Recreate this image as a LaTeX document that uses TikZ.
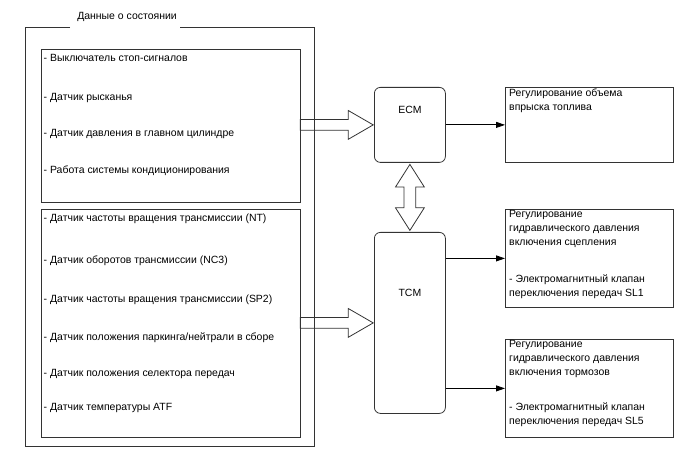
\documentclass[tikz,border=0pt]{standalone}
\usepackage{fontspec}
\setmainfont{Liberation Sans}
\usetikzlibrary{positioning, arrows.meta, shapes.arrows, calc}
\definecolor{mLine}{HTML}{333333}

\begin{document}
\begin{tikzpicture}[x=1bp, y=-1bp,
  every node/.style={font=\fontsize{10.5}{14}\selectfont},
  panel/.style={draw=mLine, line width=0.8bp, anchor=north west, inner sep=0},
  ctrl/.style={draw=mLine, line width=0.8bp, rounded corners=6bp,
               minimum width=71bp, anchor=north west, inner sep=0},
  txt/.style={anchor=north west, align=left, inner sep=0},
  bigarr/.style={draw=mLine, line width=0.8bp, single arrow,
                 single arrow tip angle=60, single arrow head extend=9bp,
                 minimum height=73bp, inner sep=5bp, anchor=tip},
  dblarr/.style={draw=mLine, line width=0.8bp, double arrow,
                 double arrow tip angle=65, double arrow head extend=8.5bp,
                 minimum height=66bp, inner sep=5.5bp, shape border rotate=90},
  feed/.style={draw=black, line width=0.8bp, -{Triangle[length=9bp,width=6bp]}},
]
  \useasboundingbox (0,0) rectangle (688,463);

  \draw[mLine, line width=0.8bp] (70,27) -| (25,446) -| (314,27) -- (180,27);
  \node (title) at (127,17) {Данные о состоянии};

  \node[panel, minimum width=259bp, minimum height=153bp] (sens1) at (40.5,49) {};
  \node[panel, minimum width=259bp, minimum height=228bp] (sens2) at (40.5,209) {};
  \node[txt] (lst1) at ($(sens1.north west)+(3,5)$) {
    - Выключатель стоп-сигналов\\[25bp]
    - Датчик рысканья\\[22bp]
    - Датчик давления в главном цилиндре\\[23bp]
    - Работа системы кондиционирования
  };
  \node[txt] (lst2) at ($(sens2.north west)+(3,5)$) {
    - Датчик частоты вращения трансмиссии (NT)\\[28bp]
    - Датчик оборотов трансмиссии (NC3)\\[25bp]
    - Датчик частоты вращения трансмиссии (SP2)\\[24bp]
    - Датчик положения паркинга/нейтрали в сборе\\[22bp]
    - Датчик положения селектора передач\\[20bp]
    - Датчик температуры ATF
  };

  \node[ctrl, minimum height=75bp] (ecm) at (374,87) {};
  \node (ecmlbl) at ($(ecm.north)+(0,23)$) {ECM};
  \node[ctrl, minimum height=181bp] (tcm) at (374,232) {};
  \node (tcmlbl) at ($(tcm.north)+(0,61)$) {TCM};

  \node[panel, minimum width=168bp, minimum height=75bp] (outA) at (505,87) {};
  \node[panel, minimum width=168bp, minimum height=98bp] (outB) at (505,209) {};
  \node[panel, minimum width=168bp, minimum height=98bp] (outC) at (505,339) {};
  \node[txt] (txtA) at ($(outA.north west)+(4,2)$) {
    Регулирование объема\\
    впрыска топлива
  };
  \node[txt] (txtB) at ($(outB.north west)+(4,1)$) {
    Регулирование\\
    гидравлического давления\\
    включения сцепления\\[23bp]
    - Электромагнитный клапан\\
    переключения передач SL1
  };
  \node[txt] (txtC) at ($(outC.north west)+(4,1)$) {
    Регулирование\\
    гидравлического давления\\
    включения тормозов\\[21bp]
    - Электромагнитный клапан\\
    переключения передач SL5
  };

  \node[bigarr] (inEcm) at (ecm.west) {};
  \node[bigarr] (inTcm) at (tcm.west) {};
  \node[dblarr] (link) at ($(ecm.south)!0.5!(tcm.north)$) {};

  \draw[feed] (ecm.east) -- (outA.west);
  \draw[feed] (tcm.east |- outB.west) -- (outB.west);
  \draw[feed] (tcm.east |- outC.west) -- (outC.west);
\end{tikzpicture}
\end{document}
